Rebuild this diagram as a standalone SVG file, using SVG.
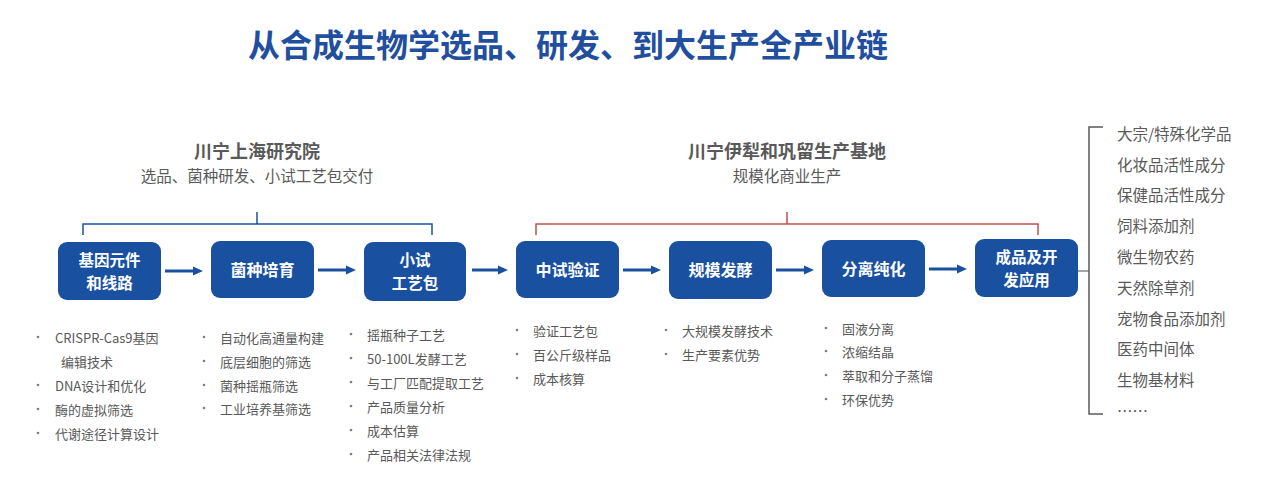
<svg xmlns="http://www.w3.org/2000/svg" width="1262" height="494" viewBox="0 0 1262 494">
<defs>
<style>
.title{font-family:"Noto Sans CJK SC","Noto Sans",sans-serif;font-weight:bold;font-size:32px;fill:#1f4f9e;}
.hd{font-family:"Noto Sans CJK SC","Noto Sans",sans-serif;font-weight:bold;font-size:18px;fill:#595959;}
.sub{font-family:"Noto Sans CJK SC","Noto Sans",sans-serif;font-size:15.5px;fill:#595959;}
.node rect{fill:#1a50a0;}
.nt{font-family:"Noto Sans CJK SC","Noto Sans",sans-serif;font-weight:bold;font-size:16px;fill:#ffffff;text-anchor:middle;}
.nt2{font-size:15.5px;}
.li{font-family:"Noto Sans CJK SC","Noto Sans",sans-serif;font-size:13px;fill:#595959;dominant-baseline:central;}
.bl{fill:#7f7f7f;}
.rl{font-family:"Noto Sans CJK SC","Noto Sans",sans-serif;font-size:15.5px;fill:#595959;dominant-baseline:central;}
.arr{stroke:#1a50a0;stroke-width:3;fill:none;}
</style>
<marker id="ah" markerUnits="userSpaceOnUse" markerWidth="11" markerHeight="10" refX="0" refY="5" orient="auto">
<path d="M0,0.5 L10,5 L0,9.5 Z" fill="#1a50a0"/>
</marker>
</defs>
<rect width="1262" height="494" fill="#ffffff"/>
<text class="title" x="568" y="57" text-anchor="middle">从合成生物学选品、研发、到大生产全产业链</text>

<g id="header-shanghai">
<text class="hd" x="257" y="158" text-anchor="middle">川宁上海研究院</text>
<text class="sub" x="257" y="182" text-anchor="middle">选品、菌种研发、小试工艺包交付</text>
</g>
<g id="header-yili">
<text class="hd" x="787" y="158" text-anchor="middle">川宁伊犁和巩留生产基地</text>
<text class="sub" x="787" y="182" text-anchor="middle">规模化商业生产</text>
</g>

<g id="connectors">
<path d="M83,235 V224 H432 V235 M257,224 V212" stroke="#1a50a0" stroke-width="1.5" fill="none"/>
<path d="M536,235 V224 H1038 V235 M787,224 V212" stroke="#c0504d" stroke-width="1.5" fill="none"/>
<line class="arr" x1="165" y1="271" x2="193" y2="271" marker-end="url(#ah)"/>
<line class="arr" x1="318" y1="270" x2="346" y2="270" marker-end="url(#ah)"/>
<line class="arr" x1="472" y1="270" x2="498" y2="270" marker-end="url(#ah)"/>
<line class="arr" x1="623" y1="270" x2="651" y2="270" marker-end="url(#ah)"/>
<line class="arr" x1="776" y1="270" x2="804" y2="270" marker-end="url(#ah)"/>
<line class="arr" x1="929" y1="269" x2="957" y2="269" marker-end="url(#ah)"/>
<line x1="1078" y1="271" x2="1089" y2="271" stroke="#a6a6a6" stroke-width="2"/>
<path d="M1103,127 H1089 V414 H1103" stroke="#595959" stroke-width="1.5" fill="none"/>
</g>

<g id="n1" class="node"><rect x="58" y="242" width="103" height="58" rx="9"/>
<text class="nt nt2"><tspan x="109.5" y="266">基因元件</tspan><tspan x="109.5" y="288.5">和线路</tspan></text></g>
<g id="n2" class="node"><rect x="211" y="241" width="103" height="57" rx="9"/>
<text class="nt" x="262.5" y="276">菌种培育</text></g>
<g id="n3" class="node"><rect x="364" y="242" width="102" height="59" rx="9"/>
<text class="nt nt2"><tspan x="415" y="266">小试</tspan><tspan x="415" y="288.5">工艺包</tspan></text></g>
<g id="n4" class="node"><rect x="516" y="241" width="103" height="57" rx="9"/>
<text class="nt" x="567.5" y="276">中试验证</text></g>
<g id="n5" class="node"><rect x="669" y="241" width="103" height="58" rx="9"/>
<text class="nt" x="720.5" y="276">规模发酵</text></g>
<g id="n6" class="node"><rect x="822" y="240" width="103" height="57" rx="9"/>
<text class="nt" x="873.5" y="275">分离纯化</text></g>
<g id="n7" class="node"><rect x="975" y="239" width="103" height="58" rx="9"/>
<text class="nt nt2"><tspan x="1026.5" y="263">成品及开</tspan><tspan x="1026.5" y="285.5">发应用</tspan></text></g>

<g id="list1">
<circle class="bl" cx="38" cy="337" r="1.3"/><text class="li" x="55" y="337">CRISPR-Cas9基因</text>
<text class="li" x="61" y="361">编辑技术</text>
<circle class="bl" cx="38" cy="385" r="1.3"/><text class="li" x="55" y="385">DNA设计和优化</text>
<circle class="bl" cx="38" cy="409" r="1.3"/><text class="li" x="55" y="409">酶的虚拟筛选</text>
<circle class="bl" cx="38" cy="433" r="1.3"/><text class="li" x="55" y="433">代谢途径计算设计</text>
</g>
<g id="list2">
<circle class="bl" cx="204" cy="337" r="1.3"/><text class="li" x="220" y="337">自动化高通量构建</text>
<circle class="bl" cx="204" cy="361" r="1.3"/><text class="li" x="220" y="361">底层细胞的筛选</text>
<circle class="bl" cx="204" cy="385" r="1.3"/><text class="li" x="220" y="385">菌种摇瓶筛选</text>
<circle class="bl" cx="204" cy="408" r="1.3"/><text class="li" x="220" y="408">工业培养基筛选</text>
</g>
<g id="list3">
<circle class="bl" cx="351" cy="334" r="1.3"/><text class="li" x="367" y="334">摇瓶种子工艺</text>
<circle class="bl" cx="351" cy="358" r="1.3"/><text class="li" x="367" y="358">50-100L发酵工艺</text>
<circle class="bl" cx="351" cy="382" r="1.3"/><text class="li" x="367" y="382">与工厂匹配提取工艺</text>
<circle class="bl" cx="351" cy="406" r="1.3"/><text class="li" x="367" y="406">产品质量分析</text>
<circle class="bl" cx="351" cy="430" r="1.3"/><text class="li" x="367" y="430">成本估算</text>
<circle class="bl" cx="351" cy="454" r="1.3"/><text class="li" x="367" y="454">产品相关法律法规</text>
</g>
<g id="list4">
<circle class="bl" cx="517" cy="330" r="1.3"/><text class="li" x="533" y="330">验证工艺包</text>
<circle class="bl" cx="517" cy="354" r="1.3"/><text class="li" x="533" y="354">百公斤级样品</text>
<circle class="bl" cx="517" cy="378" r="1.3"/><text class="li" x="533" y="378">成本核算</text>
</g>
<g id="list5">
<circle class="bl" cx="666" cy="330" r="1.3"/><text class="li" x="682" y="330">大规模发酵技术</text>
<circle class="bl" cx="666" cy="354" r="1.3"/><text class="li" x="682" y="354">生产要素优势</text>
</g>
<g id="list6">
<circle class="bl" cx="826" cy="328" r="1.3"/><text class="li" x="842" y="328">固液分离</text>
<circle class="bl" cx="826" cy="351" r="1.3"/><text class="li" x="842" y="351">浓缩结晶</text>
<circle class="bl" cx="826" cy="375" r="1.3"/><text class="li" x="842" y="375">萃取和分子蒸馏</text>
<circle class="bl" cx="826" cy="399" r="1.3"/><text class="li" x="842" y="399">环保优势</text>
</g>
<g id="applications">
<text class="rl" x="1117" y="133">大宗/特殊化学品</text>
<text class="rl" x="1117" y="164">化妆品活性成分</text>
<text class="rl" x="1117" y="194">保健品活性成分</text>
<text class="rl" x="1117" y="225">饲料添加剂</text>
<text class="rl" x="1117" y="256">微生物农药</text>
<text class="rl" x="1117" y="287">天然除草剂</text>
<text class="rl" x="1117" y="318">宠物食品添加剂</text>
<text class="rl" x="1117" y="348">医药中间体</text>
<text class="rl" x="1117" y="379">生物基材料</text>
<text class="rl" x="1117" y="410">……</text>
</g>
</svg>
